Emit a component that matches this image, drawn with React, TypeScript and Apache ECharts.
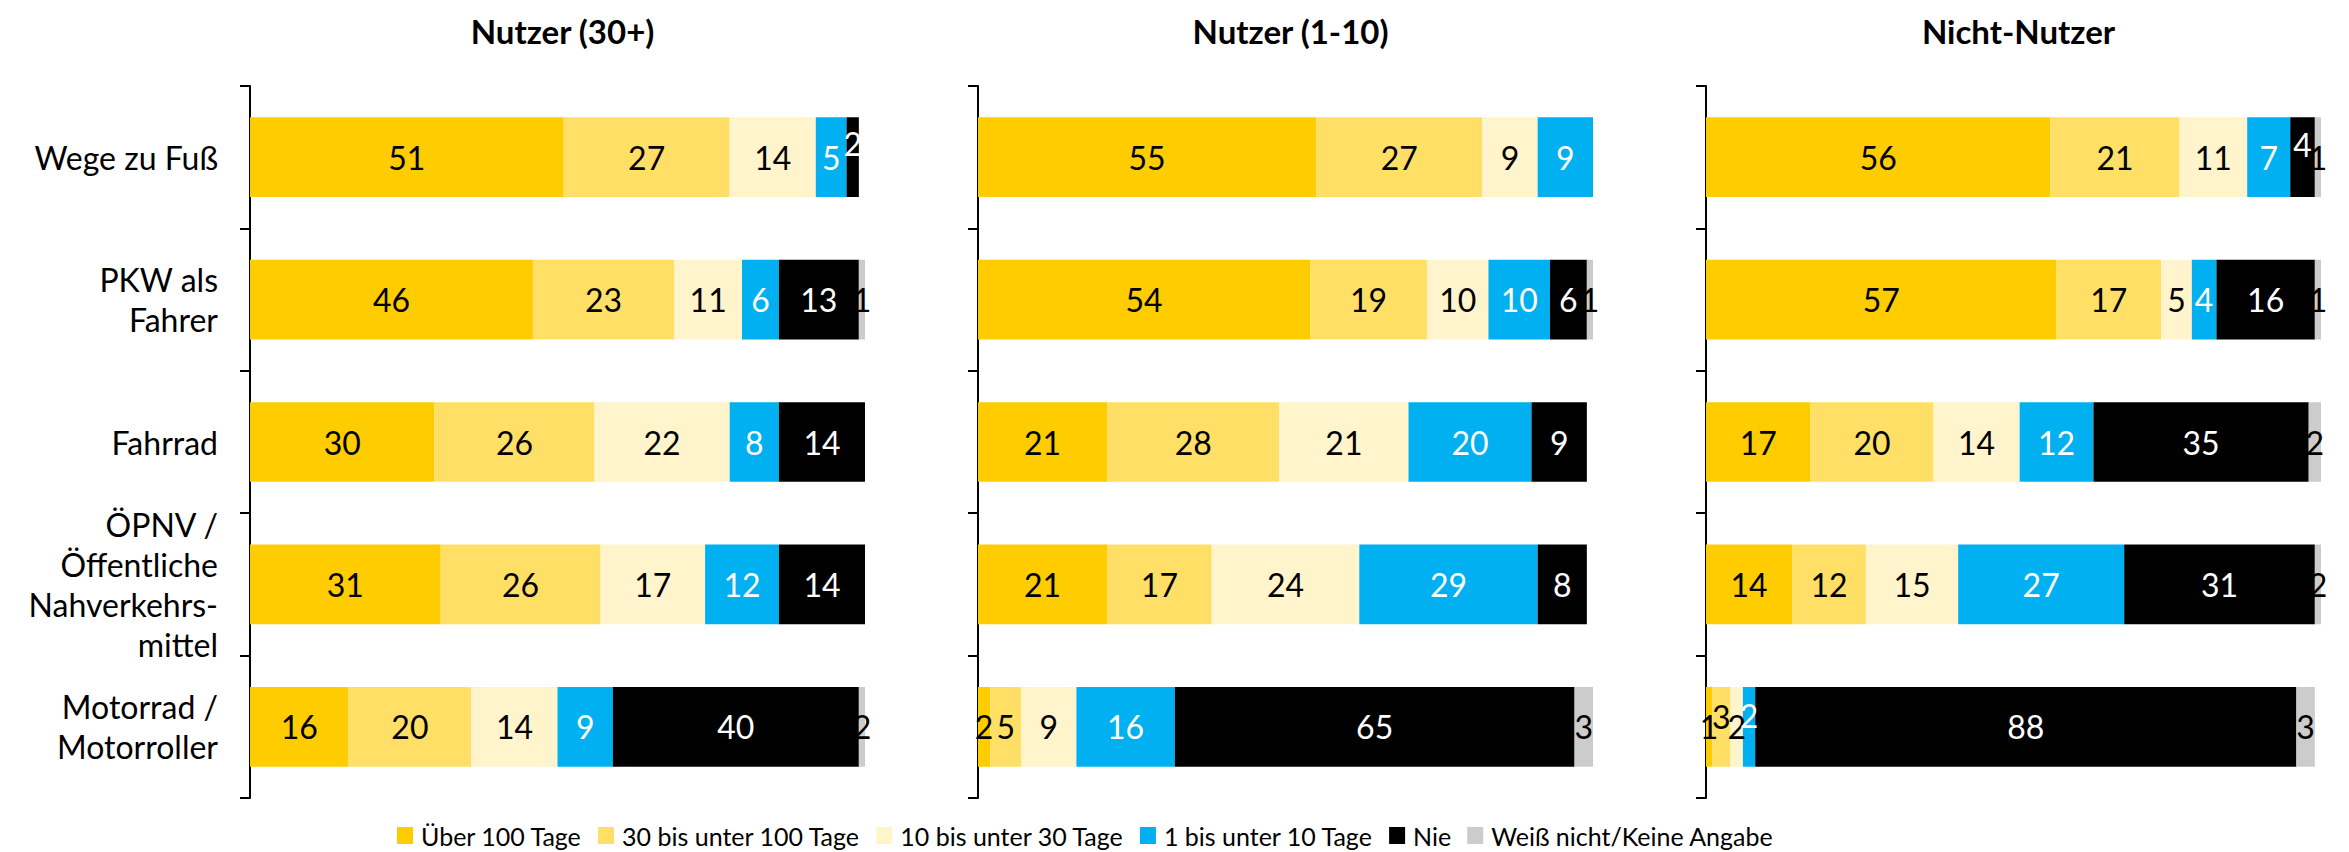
import React, { useEffect, useRef } from "react";
import * as echarts from "echarts";

const panelTitles = ["Nutzer (30+)", "Nutzer (1-10)", "Nicht-Nutzer"];
const categories = [
  "Wege zu Fuß",
  "PKW als\nFahrer",
  "Fahrrad",
  "ÖPNV /\nÖffentliche\nNahverkehrs-\nmittel",
  "Motorrad /\nMotorroller",
];
const seriesNames = [
  "Über 100 Tage",
  "30 bis unter 100 Tage",
  "10 bis unter 30 Tage",
  "1 bis unter 10 Tage",
  "Nie",
  "Weiß nicht/Keine Angabe",
];

// Panel 1: Nutzer (30+)
const p1Ueber100 = [51, 46, 30, 31, 16];
const p1Von30 = [27, 23, 26, 26, 20];
const p1Von10 = [14, 11, 22, 17, 14];
const p1Von1 = [5, 6, 8, 12, 9];
const p1Nie = [2, 13, 14, 14, 40];
const p1WeissNicht = [0, 1, 0, 0, 2];

// Panel 2: Nutzer (1-10)
const p2Ueber100 = [55, 54, 21, 21, 2];
const p2Von30 = [27, 19, 28, 17, 5];
const p2Von10 = [9, 10, 21, 24, 9];
const p2Von1 = [9, 10, 20, 29, 16];
const p2Nie = [0, 6, 9, 8, 65];
const p2WeissNicht = [0, 1, 0, 0, 3];

// Panel 3: Nicht-Nutzer
const p3Ueber100 = [56, 57, 17, 14, 1];
const p3Von30 = [21, 17, 20, 12, 3];
const p3Von10 = [11, 5, 14, 15, 2];
const p3Von1 = [7, 4, 12, 27, 2];
const p3Nie = [4, 16, 35, 31, 88];
const p3WeissNicht = [1, 1, 2, 2, 3];

const panelData = [
  [p1Ueber100, p1Von30, p1Von10, p1Von1, p1Nie, p1WeissNicht],
  [p2Ueber100, p2Von30, p2Von10, p2Von1, p2Nie, p2WeissNicht],
  [p3Ueber100, p3Von30, p3Von10, p3Von1, p3Nie, p3WeissNicht],
];

// styles
const colors = ["#FFCC00", "#FFDF66", "#FFF4CC", "#00B0F0", "#000000", "#CCCCCC"];
const labelColors = ["#000", "#000", "#000", "#fff", "#fff", "#000"];
// labels that the original lifts to avoid overlap: [panel, series, category, dy]
const raisedLabels = [
  [0, 4, 0, -14],
  [2, 4, 0, -13],
  [2, 1, 4, -10],
  [2, 3, 4, -11],
];

const gridLefts = [250, 978, 1706];
const gridWidth = 615;
const gridTop = 86;
const gridHeight = 712;
const FONT = "Lato";

export default function App() {
  const ref = useRef<HTMLDivElement>(null);
  useEffect(() => {
    if (!ref.current) return;
    const chart = echarts.init(ref.current, undefined, { renderer: "svg" });
    const series: any[] = [];
    panelData.forEach((panel, pi) => {
      panel.forEach((vals, si) => {
        series.push({
          type: "bar",
          name: seriesNames[si],
          stack: "p" + pi,
          xAxisIndex: pi,
          yAxisIndex: pi,
          barCategoryGap: "44%",
          itemStyle: { color: colors[si] },
          label: {
            show: true,
            position: "inside",
            color: labelColors[si],
            fontFamily: FONT,
            fontSize: 32,
            formatter: (p: any) => (p.value ? String(p.value) : ""),
          },
          data: vals.map((v, ci) => {
            const r = raisedLabels.find((x) => x[0] === pi && x[1] === si && x[2] === ci);
            return r ? { value: v, label: { offset: [0, r[3]] } } : v;
          }),
        });
      });
    });
    const option: any = {
      animation: false,
      backgroundColor: "#fff",
      title: panelTitles.map((t, i) => ({
        text: t,
        left: gridLefts[i] + gridWidth / 2,
        top: 9,
        textAlign: "center",
        textStyle: { fontFamily: FONT, fontWeight: "bold", fontSize: 33, color: "#000" },
      })),
      legend: {
        left: 392,
        top: 818,
        icon: "rect",
        itemWidth: 16,
        itemHeight: 17,
        itemGap: 16,
        data: seriesNames,
        textStyle: { fontFamily: FONT, fontSize: 25, color: "#000", padding: [0, 0, 0, 3] },
      },
      grid: gridLefts.map((l) => ({ left: l, width: gridWidth, top: gridTop, height: gridHeight })),
      xAxis: gridLefts.map((_, i) => ({
        type: "value",
        gridIndex: i,
        min: 0,
        max: 100,
        show: false,
        splitLine: { show: false },
      })),
      yAxis: gridLefts.map((_, i) => ({
        type: "category",
        gridIndex: i,
        data: categories,
        inverse: true,
        axisLine: { show: true, lineStyle: { color: "#000", width: 2 } },
        axisTick: { show: true, length: 10, lineStyle: { color: "#000", width: 2 } },
        axisLabel: {
          show: i === 0,
          fontFamily: FONT,
          fontSize: 32,
          lineHeight: 40,
          color: "#000",
          margin: 32,
          align: "right",
        },
      })),
      series,
    };
    chart.setOption(option);
    return () => chart.dispose();
  }, []);
  return (
    <div
      ref={ref}
      style={{ position: "fixed", left: 0, top: 0, width: 2349, height: 852, background: "#fff" }}
    />
  );
}
